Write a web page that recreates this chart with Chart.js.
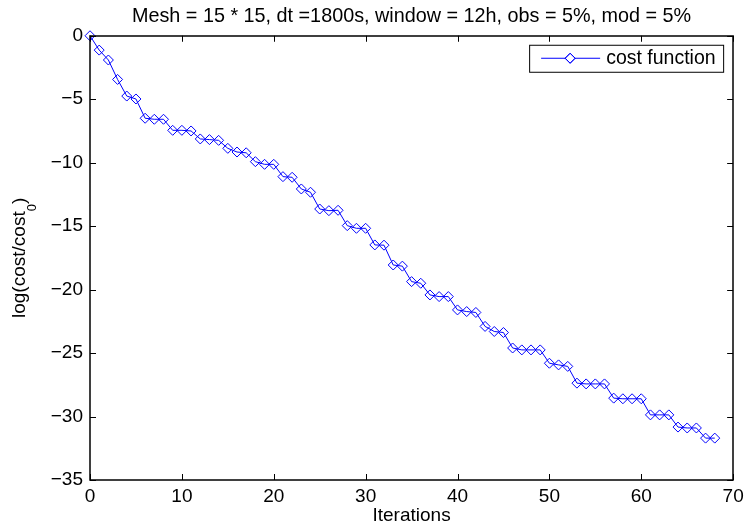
<!DOCTYPE html>
<html>
<head>
<meta charset="utf-8">
<title>cost function</title>
<script src="https://cdn.jsdelivr.net/npm/chart.js@4.4.1/dist/chart.umd.min.js"></script>
<style>
    html, body { margin: 0; padding: 0; background: #fff; }
    #wrap { width: 749px; height: 529px; }
</style>
</head>
<body>
<div id="wrap"><canvas id="costChart" width="749" height="529"></canvas></div>
<script>
// Convergence of the cost function

const iterations = [
    0, 1, 2, 3, 4, 5, 6, 7, 8, 9,
    10, 11, 12, 13, 14, 15, 16, 17, 18, 19,
    20, 21, 22, 23, 24, 25, 26, 27, 28, 29,
    30, 31, 32, 33, 34, 35, 36, 37, 38, 39,
    40, 41, 42, 43, 44, 45, 46, 47, 48, 49,
    50, 51, 52, 53, 54, 55, 56, 57, 58, 59,
    60, 61, 62, 63, 64, 65, 66, 67, 68
];

const logCost = [
    0, -1.13, -1.91, -3.44, -4.75, -4.98, -6.5, -6.58, -6.58, -7.45,
    -7.45, -7.5, -8.13, -8.18, -8.24, -8.87, -9.16, -9.22, -9.92, -10.13,
    -10.13, -11.1, -11.15, -12.07, -12.33, -13.65, -13.78, -13.75, -14.96, -15.17,
    -15.17, -16.48, -16.5, -18.06, -18.15, -19.37, -19.5, -20.42, -20.55, -20.55,
    -21.6, -21.73, -21.8, -22.9, -23.3, -23.38, -24.6, -24.75, -24.75, -24.75,
    -25.8, -25.93, -26.05, -27.37, -27.43, -27.43, -27.43, -28.55, -28.6, -28.6,
    -28.6, -29.87, -29.87, -29.87, -30.83, -30.9, -30.9, -31.7, -31.7
];

const xTicks = [0, 10, 20, 30, 40, 50, 60, 70];
const yTicks = [0, -5, -10, -15, -20, -25, -30, -35];

const seriesLabel = 'cost function';
const titleText = 'Mesh = 15 * 15, dt =1800s, window = 12h, obs = 5%, mod = 5%';

const FONT = '"Liberation Sans", Arial, Helvetica, sans-serif';
const BLUE = '#0000ff';

// box round the axes with inward ticks, matlab style
const axesBox = {
    id: 'axesBox',
    afterDraw(chart) {
        const ctx = chart.ctx;
        const a = chart.chartArea;
        const xs = chart.scales.x;
        const ys = chart.scales.y;
        const tick = 6;

        ctx.save();
        ctx.strokeStyle = '#000';
        ctx.lineWidth = 1;
        ctx.beginPath();
        xTicks.forEach(v => {
            const px = Math.round(xs.getPixelForValue(v)) + 0.5;
            ctx.moveTo(px, a.bottom);
            ctx.lineTo(px, a.bottom - tick);
            ctx.moveTo(px, a.top);
            ctx.lineTo(px, a.top + tick);
        });
        yTicks.forEach(v => {
            const py = Math.round(ys.getPixelForValue(v)) + 0.5;
            ctx.moveTo(a.left, py);
            ctx.lineTo(a.left + tick, py);
            ctx.moveTo(a.right, py);
            ctx.lineTo(a.right - tick, py);
        });
        ctx.stroke();

        ctx.lineWidth = 1.5;
        ctx.strokeRect(Math.round(a.left), Math.round(a.top), Math.round(a.right - a.left), Math.round(a.bottom - a.top));
        ctx.restore();
    }
};

// y title with a subscript, drawn rotated
const yTitle = {
    id: 'yTitle',
    afterDraw(chart) {
        const ctx = chart.ctx;
        const a = chart.chartArea;
        const main = 'log(cost/cost';
        const sub = '0';
        const tail = ')';

        ctx.save();
        ctx.fillStyle = '#000';
        ctx.textBaseline = 'alphabetic';
        ctx.textAlign = 'left';
        ctx.font = '19px ' + FONT;
        const w1 = ctx.measureText(main).width;
        const w3 = ctx.measureText(tail).width;
        ctx.font = '13px ' + FONT;
        const w2 = ctx.measureText(sub).width;
        const total = w1 + w2 + w3;

        ctx.translate(25, (a.top + a.bottom) / 2);
        ctx.rotate(-Math.PI / 2);
        let x = -total / 2;
        ctx.font = '19px ' + FONT;
        ctx.fillText(main, x, 0);
        x += w1;
        ctx.font = '13px ' + FONT;
        ctx.fillText(sub, x, 11);
        x += w2;
        ctx.font = '19px ' + FONT;
        ctx.fillText(tail, x, 0);
        ctx.restore();
    }
};

// legend in the upper right corner: line + diamond + text in a box
const boxLegend = {
    id: 'boxLegend',
    afterDraw(chart) {
        const ctx = chart.ctx;
        const a = chart.chartArea;
        const ds = chart.data.datasets[0];
        const right = a.right - 10;
        const top = a.top + 9;
        const width = 194;
        const height = 27;
        const left = right - width;
        const midY = top + 13;

        ctx.save();
        ctx.fillStyle = '#fff';
        ctx.fillRect(left, top, width, height);
        ctx.strokeStyle = '#000';
        ctx.lineWidth = 1;
        ctx.strokeRect(left + 0.5, top + 0.5, width, height);

        ctx.strokeStyle = ds.borderColor;
        ctx.beginPath();
        ctx.moveTo(left + 12, midY + 0.5);
        ctx.lineTo(left + 71, midY + 0.5);
        ctx.stroke();

        Chart.helpers.drawPoint(ctx, {
            pointStyle: ds.pointStyle,
            radius: ds.pointRadius,
            borderWidth: 1
        }, left + 41, midY + 0.5);
        ctx.stroke();

        ctx.fillStyle = '#000';
        ctx.font = '19.5px ' + FONT;
        ctx.textBaseline = 'alphabetic';
        ctx.textAlign = 'left';
        ctx.fillText(ds.label, left + 77, top + 19.5);
        ctx.restore();
    }
};

function createCostChart() {
    const ctx = document.getElementById('costChart').getContext('2d');

    return new Chart(ctx, {
        type: 'line',
        data: {
            datasets: [{
                label: seriesLabel,
                data: iterations.map((it, i) => ({ x: it, y: logCost[i] })),
                borderColor: BLUE,
                borderWidth: 1,
                backgroundColor: 'rgba(0,0,0,0)',
                pointStyle: 'rectRot',
                pointRadius: 5,
                pointBorderWidth: 1,
                pointBorderColor: BLUE,
                pointBackgroundColor: 'rgba(0,0,0,0)',
                tension: 0,
                fill: false,
                clip: false
            }]
        },
        options: {
            responsive: false,
            animation: false,
            events: [],
            layout: { padding: { top: 0, right: 15, bottom: 0, left: 0 } },
            plugins: {
                legend: { display: false },
                tooltip: { enabled: false },
                title: {
                    display: true,
                    fullSize: false,
                    text: titleText,
                    color: '#000',
                    font: { family: FONT, size: 19.8, weight: 'normal' },
                    padding: { top: 4.4, bottom: 7.6 }
                }
            },
            scales: {
                x: {
                    type: 'linear',
                    min: xTicks[0],
                    max: xTicks[xTicks.length - 1],
                    afterFit: scale => { scale.height = 49; },
                    afterBuildTicks: scale => { scale.ticks = xTicks.map(v => ({ value: v })); },
                    grid: { display: false, drawTicks: false },
                    border: { display: false },
                    ticks: {
                        color: '#000',
                        padding: 5.3,
                        maxRotation: 0,
                        font: { family: FONT, size: 19 }
                    },
                    title: {
                        display: true,
                        text: 'Iterations',
                        color: '#000',
                        font: { family: FONT, size: 19 },
                        padding: { top: 0, bottom: 1.9 }
                    }
                },
                y: {
                    type: 'linear',
                    min: yTicks[yTicks.length - 1],
                    max: yTicks[0],
                    afterFit: scale => { scale.width = 90; },
                    afterBuildTicks: scale => { scale.ticks = yTicks.slice().reverse().map(v => ({ value: v })); },
                    grid: { display: false, drawTicks: false },
                    border: { display: false },
                    ticks: {
                        color: '#000',
                        padding: 7,
                        font: { family: FONT, size: 19 },
                        callback: v => v < 0 ? '\u2212' + Math.abs(v) : String(v)
                    }
                }
            }
        },
        plugins: [axesBox, yTitle, boxLegend]
    });
}

const costChart = createCostChart();
</script>
</body>
</html>
